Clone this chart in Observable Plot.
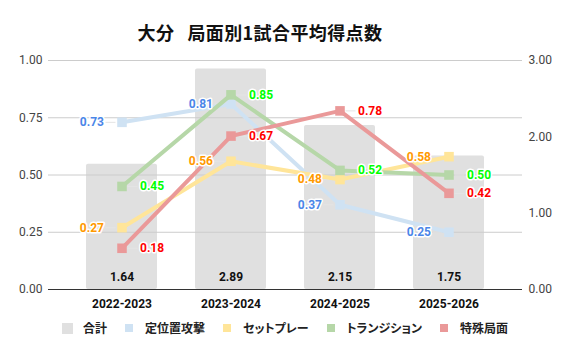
<!DOCTYPE html>
<html>
<head>
<meta charset="utf-8">
<script src="https://cdn.jsdelivr.net/npm/d3@7"></script>
<script src="https://cdn.jsdelivr.net/npm/@observablehq/plot@0.6"></script>
<style>
  html, body { margin: 0; padding: 0; background: #fff; }
  body { width: 570px; height: 353px; overflow: hidden; font-family: Roboto, "Noto Sans CJK JP", sans-serif; }
  #title { height: 44px; box-sizing: border-box; padding-top: 20px; padding-right: 50px; line-height: 24px; text-align: center;
           font-size: 18px; font-weight: bold; color: #111; font-family: "Noto Sans CJK JP", Roboto, sans-serif;
           font-feature-settings: "palt"; white-space: pre; letter-spacing: 0.4px; }
  #title .gap { display: inline-block; width: 13px; }
  #legend { height: 31px; display: flex; justify-content: center; align-items: flex-start; font-size: 12px;
            font-weight: bold; color: #222; line-height: 12px; font-family: "Noto Sans CJK JP", Roboto, sans-serif;
            font-feature-settings: "palt"; }
  .item { display: flex; align-items: center; margin-right: 18px; }
  .item:last-child { margin-right: 0; }
  .sw { display: inline-block; }
  svg { display: block; }
</style>
</head>
<body>
<div id="title"></div>
<div id="chart"></div>
<div id="legend"></div>
<script>
const titleParts = ["大分", "局面別1試合平均得点数"];
const categories = ["2022-2023", "2023-2024", "2024-2025", "2025-2026"];
const totalName = "合計";
const totals = [1.64, 2.89, 2.15, 1.75];
const seriesNames = ["定位置攻撃", "セットプレー", "トランジション", "特殊局面"];
const teiichi = [0.73, 0.81, 0.37, 0.25];
const setPlay = [0.27, 0.56, 0.48, 0.58];
const transition = [0.45, 0.85, 0.52, 0.50];
const tokushu = [0.18, 0.67, 0.78, 0.42];
const leftTicks = [0, 0.25, 0.5, 0.75, 1];
const rightTicks = [0, 1, 2, 3];
const rightMax = 3;

const seriesValues = [teiichi, setPlay, transition, tokushu];
const lineColors = ["#cfe2f3", "#ffe599", "#b6d7a8", "#ea9999"];
const labelColors = ["#4a86e8", "#ff9900", "#00ff00", "#ff0000"];
const labelSide = ["left", "left", "right", "right"];
const barColor = "#e0e0e0";

const titleEl = document.getElementById("title");
titleParts.forEach((p, i) => {
  if (i > 0) { const g = document.createElement("span"); g.className = "gap"; titleEl.appendChild(g); }
  titleEl.appendChild(document.createTextNode(p));
});

const bars = categories.map((c, i) => ({cat: c, value: totals[i], scaled: totals[i] / rightMax}));
const pts = [];
seriesNames.forEach((s, k) => categories.forEach((c, i) => pts.push({series: s, k, cat: c, value: seriesValues[k][i]})));

const bw = 71, half = bw / 2;
const marks = [
  Plot.barY(bars, {x: "cat", y: "scaled", fill: barColor, rx: 2}),
  Plot.ruleY(leftTicks.filter(d => d > 0), {stroke: "#cccccc", strokeWidth: 1}),
  Plot.ruleY([0], {stroke: "#333", strokeWidth: 1}),
  Plot.axisY({anchor: "left", ticks: leftTicks, tickSize: 0, tickPadding: 6, tickFormat: d => d.toFixed(2),
              fontSize: 12, fill: "#444", label: null}),
  Plot.axisY({anchor: "right", ticks: rightTicks.map(d => d / rightMax), tickSize: 0, tickPadding: 6,
              tickFormat: d => (d * rightMax).toFixed(2), fontSize: 12, fill: "#444", label: null}),
  Plot.axisX({tickSize: 0, tickPadding: 10, fontSize: 12, fontWeight: "bold", fill: "#111", label: null})
];
seriesNames.forEach((s, k) => {
  const data = pts.filter(d => d.k === k);
  const left = labelSide[k] === "left";
  marks.push(Plot.tickY(data, {x: "cat", y: "value", stroke: "#e4e4e4", strokeWidth: 1,
    insetLeft: left ? half - 16 : half + 6, insetRight: left ? half + 6 : half - 16}));
});
seriesNames.forEach((s, k) => {
  const data = pts.filter(d => d.k === k);
  marks.push(Plot.line(data, {x: "cat", y: "value", stroke: lineColors[k], strokeWidth: 4, strokeLinejoin: "round"}));
  marks.push(Plot.dot(data, {x: "cat", y: "value", symbol: "square", r: 5.4, fill: lineColors[k]}));
});
seriesNames.forEach((s, k) => {
  const data = pts.filter(d => d.k === k);
  const left = labelSide[k] === "left";
  marks.push(Plot.text(data, {x: "cat", y: "value", text: d => d.value.toFixed(2), fill: labelColors[k],
    stroke: "white", strokeWidth: 3, fontWeight: "bold", fontSize: 12,
    textAnchor: left ? "end" : "start", dx: left ? -18 : 18}));
});
marks.push(Plot.text(bars, {x: "cat", y: 0, text: d => d.value.toFixed(2), dy: -12, fontWeight: "bold",
  fontSize: 12, fill: "#111"}));

const chart = Plot.plot({
  width: 570,
  height: 278,
  marginLeft: 48,
  marginRight: 48,
  marginTop: 16,
  marginBottom: 33,
  style: {fontFamily: "Roboto, 'Noto Sans CJK JP', sans-serif", background: "white"},
  x: {domain: categories, paddingInner: 0.35, paddingOuter: 0.345},
  y: {domain: [0, 1]},
  marks
});
document.getElementById("chart").appendChild(chart);

const legend = document.getElementById("legend");
const items = [{name: totalName, color: barColor, size: 11, gap: 10}]
  .concat(seriesNames.map((n, k) => ({name: n, color: lineColors[k], size: 8, gap: 12})));
items.forEach(it => {
  const el = document.createElement("span");
  el.className = "item";
  const sw = document.createElement("span");
  sw.className = "sw";
  sw.style.width = it.size + "px";
  sw.style.height = it.size + "px";
  sw.style.background = it.color;
  sw.style.marginRight = it.gap + "px";
  const tx = document.createElement("span");
  tx.textContent = it.name;
  el.appendChild(sw);
  el.appendChild(tx);
  legend.appendChild(el);
});
</script>
</body>
</html>
